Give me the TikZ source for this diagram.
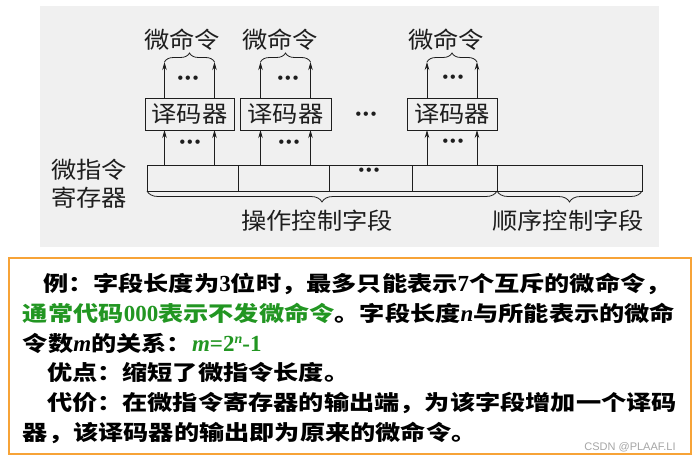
\documentclass[tikz,border=0pt]{standalone}
\usepackage{fontspec}
\usetikzlibrary{arrows.meta,decorations.pathreplacing,calc}
\newfontfamily\cjk[FakeStretch=1.1]{Noto Sans CJK SC}
\newfontfamily\cjkb[FakeStretch=1.2]{Noto Sans CJK SC}
\newfontfamily\numf{Liberation Serif}
\newfontfamily\wmf{Liberation Sans}
\definecolor{bggray}{RGB}{240,240,240}
\definecolor{orangeb}{RGB}{247,163,55}
\definecolor{tgreen}{RGB}{34,150,34}
\definecolor{ink}{RGB}{30,30,30}
\newcommand\tdots{{\wmf\fontsize{16}{16}\selectfont\textbullet\kern2pt\textbullet\kern2pt\textbullet}}
\newcommand\nm[1]{{\numf\bfseries\fontsize{23}{23}\selectfont #1}}
\newcommand\nmi[1]{{\numf\bfseries\itshape\fontsize{23}{23}\selectfont #1}}
\newcommand\nmsup[1]{\raisebox{8pt}{\numf\bfseries\itshape\fontsize{14}{14}\selectfont #1}}
\begin{document}
\begin{tikzpicture}[x=1pt,y=-1pt,
  every node/.style={inner sep=0pt, outer sep=0pt},
  lbl/.style={font=\cjk\fontsize{23}{28}\selectfont, text=ink},
  cell/.style={draw=ink, line width=0.8pt, minimum height=26pt},
  dec/.style={draw=ink, line width=0.8pt, minimum height=32pt, font=\cjk\fontsize{23}{28}\selectfont, text=ink},
  arr/.style={draw=ink, line width=0.8pt, -{Stealth[length=8pt,width=4.5pt]}},
  ubrace/.style={draw=ink, line width=0.8pt, decorate, decoration={brace, amplitude=9pt}},
  dbrace/.style={draw=ink, line width=0.8pt, decorate, decoration={brace, mirror, amplitude=11pt}},
  body/.style={font=\cjkb\bfseries\fontsize{21}{21}\selectfont, anchor=base west, text=black},
  dotsn/.style={text=ink}
]
\useasboundingbox (0,0) rectangle (697,462);
\fill[white] (0,0) rectangle (697,462);
\fill[bggray] (40,6) rectangle (659,247);

% register cells
\node[cell, minimum width=91pt] (r1) at (192.5,178) {};
\node[cell, minimum width=91pt] (r2) at (283.5,178) {};
\node[cell, minimum width=83pt] (r3) at (370.5,178) {};
\node[cell, minimum width=85pt] (r4) at (454.5,178) {};
\node[cell, minimum width=145pt] (r5) at (569.5,178) {};

% decoders
\node[dec, minimum width=89pt] (d1) at (189.5,114) {译码器};
\node[dec, minimum width=91pt] (d2) at (285.5,114) {译码器};
\node[dec, minimum width=90pt] (d3) at (452,114) {译码器};

% arrow columns
\foreach \i in {1,2,3}{
  \coordinate (b\i l) at ($(d\i.north)+(-25,-36)$);
  \coordinate (b\i r) at ($(d\i.north)+(25,-36)$);
}
\draw[arr] (b1l |- r1.north) -- (b1l |- d1.south);
\draw[arr] (b1r |- r1.north) -- (b1r |- d1.south);
\draw[arr] (b2l |- r2.north) -- (b2l |- d2.south);
\draw[arr] (b2r |- r2.north) -- (b2r |- d2.south);
\draw[arr] (b3l |- r4.north) -- (b3l |- d3.south);
\draw[arr] (b3r |- r4.north) -- (b3r |- d3.south);

\draw[arr] (b1l |- d1.north) -- (b1l);
\draw[arr] (b1r |- d1.north) -- (b1r);
\draw[arr] (b2l |- d2.north) -- (b2l);
\draw[arr] (b2r |- d2.north) -- (b2r);
\draw[arr] (b3l |- d3.north) -- (b3l);
\draw[arr] (b3r |- d3.north) -- (b3r);

\draw[ubrace] (b1l) -- (b1r);
\draw[ubrace] (b2l) -- (b2r);
\draw[ubrace] (b3l) -- (b3r);

\node[lbl] (m1) at (182,40) {微命令};
\node[lbl] (m2) at (280,40) {微命令};
\node[lbl] (m3) at (446,40) {微命令};

% dots
\node[dotsn] (p1) at (188,80) {\tdots};
\node[dotsn] (p2) at (288,80) {\tdots};
\node[dotsn] (p3) at (453,79) {\tdots};
\node[dotsn] (q1) at (190,144) {\tdots};
\node[dotsn] (q2) at (289,144) {\tdots};
\node[dotsn] (q3) at (453,143) {\tdots};
\node[dotsn] (s1) at (366,116) {\tdots};
\node[dotsn] (s2) at (369,172) {\tdots};

% lower braces
\draw[dbrace] (r1.south west) -- (r4.south east);
\draw[dbrace] (r5.south west) -- (r5.south east);
\node[lbl] (f1) at (317,221) {操作控制字段};
\node[lbl] (f2) at (568,221) {顺序控制字段};
\node[lbl, align=center] (reg) at (89,184) {微指令\\寄存器};

% text box
\draw[orangeb, line width=2pt, fill=white] (9,258) rectangle (691,454);
\node[body] (l1) at (43,292) {例：字段长度为\nm{3}位时，最多只能表示\nm{7}个互斥的微命令，};
\node[body] (l2) at (23,322) {{\color{tgreen}通常代码\nm{000}表示不发微命令}。字段长度\nmi{n}与所能表示的微命};
\node[body] (l3) at (23,352) {令数\nmi{m}的关系：{\color{tgreen}\nmi{m}\nm{=2}\nmsup{n}\nm{-1}}};
\node[body] (l4) at (47,381) {优点：缩短了微指令长度。};
\node[body] (l5) at (47,411) {代价：在微指令寄存器的输出端，为该字段增加一个译码};
\node[body] (l6) at (23,441) {器，该译码器的输出即为原来的微命令。};
\node[font=\wmf\fontsize{11}{11}\selectfont, text=gray!70] (wm) at (630,447) {CSDN @PLAAF.LI};
\end{tikzpicture}
\end{document}
